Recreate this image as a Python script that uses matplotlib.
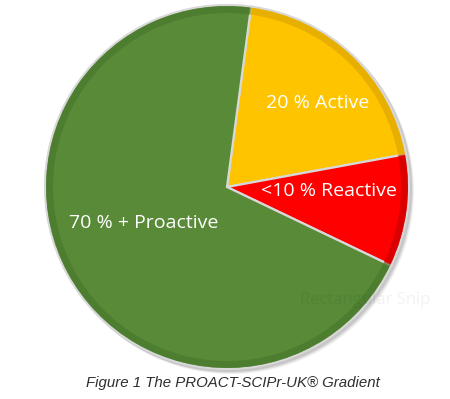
import numpy as np
import matplotlib.pyplot as plt
from matplotlib.patches import Wedge

# Datos del gráfico
etiquetas = ["20 % Active", "<10 % Reactive", "70 % + Proactive"]
valores = [20, 10, 70]
colores = ["#FFC400", "#FF0000", "#588A38"]
colores_borde = ["#E0A800", "#D00000", "#4A7A2E"]
titulo = "Figure 1 The PROACT-SCIPr-UK® Gradient"

W, H = 450, 399
fig = plt.figure(figsize=(W / 100, H / 100), dpi=100)
ax = fig.add_axes([0, 0, 1, 1])

cx, cy, r = 227, H - 187, 182

# sombra suave
for k, a in enumerate([0.10, 0.08, 0.06]):
    ax.add_patch(plt.Circle((cx + 2 + k, cy - 2 - k), r + 1, color="#000000", alpha=a, lw=0, zorder=0))

wedges, _ = ax.pie(valores, colors=colores, startangle=82.4, counterclock=False,
                   center=(cx, cy), radius=r, frame=True,
                   wedgeprops=dict(edgecolor="#D8D8D8", linewidth=1.6))
ax.set_xlim(0, W)
ax.set_ylim(0, H)
ax.axis("off")

# biselado: anillo interior más oscuro en el borde de cada porción
for w, cb in zip(wedges, colores_borde):
    ax.add_patch(Wedge((cx, cy), r - 1, w.theta1, w.theta2, width=7, color=cb, lw=0, alpha=0.75, zorder=3))

# posiciones de etiquetas (ángulo, fracción del radio)
pos_etiquetas = [(43, 0.68), (-2.5, 0.56), (203, 0.50)]
for et, (ang, fr) in zip(etiquetas, pos_etiquetas):
    x = cx + fr * r * np.cos(np.radians(ang))
    y = cy + fr * r * np.sin(np.radians(ang))
    ax.text(x, y, et, color="white", fontsize=14, family="Open Sans",
            ha="center", va="center", zorder=5)

# marca de agua tenue
ax.text(300, H - 300, "Rectangular Snip", color="#000000", alpha=0.05, fontsize=12,
        family="Open Sans", ha="left", va="center", zorder=6)

ax.text(W / 2 + 8, H - 383, titulo, fontsize=10.8, style="italic", color="#2E2E2E",
        family="Liberation Sans", ha="center", va="center")

fig.savefig("out.png", dpi=100)
